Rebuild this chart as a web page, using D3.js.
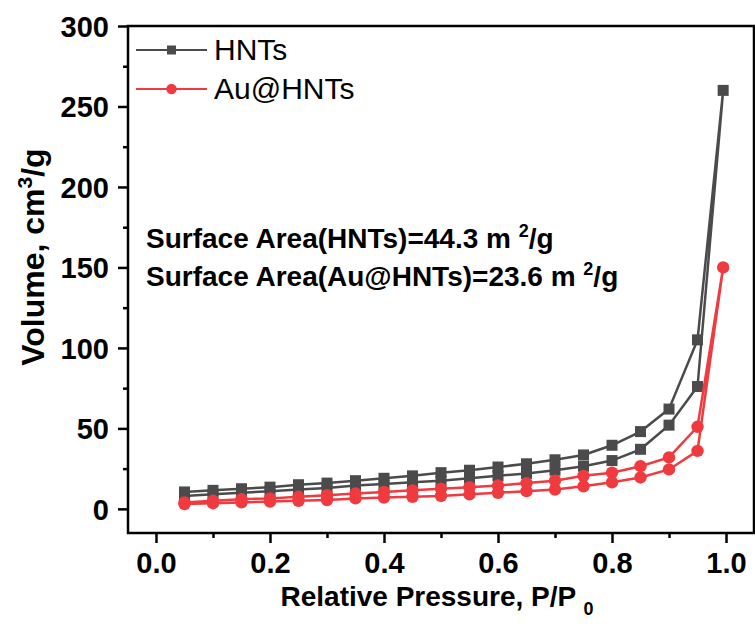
<!DOCTYPE html>
<html>
<head>
<meta charset="utf-8">
<script src="https://cdn.jsdelivr.net/npm/d3@7"></script>
<style>
  body { margin: 0; background: #fff; }
  svg { display: block; font-family: "Liberation Sans", Arial, sans-serif; }
</style>
</head>
<body>
<svg width="755" height="626"></svg>
<script>
// relative pressure points (adsorption goes up to 0.995, desorption comes back)
const pressure = [0.05, 0.10, 0.15, 0.20, 0.25, 0.30, 0.35, 0.40, 0.45, 0.50,
  0.55, 0.60, 0.65, 0.70, 0.75, 0.80, 0.85, 0.90, 0.95, 0.995];

const hntsAds = [8, 9, 10, 11, 12, 13, 14.5, 15.5, 16.5, 17.5,
  19, 20.5, 22, 24, 26.5, 30, 37, 52, 76, 260];
const hntsDes = [10.5, 11.5, 12.5, 13.5, 15, 16, 17.5, 19, 20.5, 22.5,
  24, 26, 28, 30.5, 33.5, 39.5, 48, 62, 105];

const auAds = [3, 3.5, 4, 4.5, 5, 5.5, 6.5, 7, 7.5, 8,
  9, 10, 11, 12, 14, 16.5, 19.5, 24.5, 36, 150];
const auDes = [4, 5, 6, 6.5, 7.5, 8.5, 9.5, 10.5, 11.5, 12.5,
  13.5, 14.5, 16, 17.5, 20.5, 22.5, 26.5, 32, 51];

const xTicks = [0, 0.2, 0.4, 0.6, 0.8, 1.0];
const xMinor = [0.1, 0.3, 0.5, 0.7, 0.9];
const yTicks = [0, 50, 100, 150, 200, 250, 300];
const yMinor = [25, 75, 125, 175, 225, 275];

const gray = '#4b4b4b';
const red = '#ef3b3f';

// adsorption then desorption back down
function loop(ads, des) {
  const pts = pressure.map((p, i) => [p, ads[i]]);
  for (let i = des.length - 1; i >= 0; i--) pts.push([pressure[i], des[i]]);
  return pts;
}

const series = [
  {name: 'HNTs', color: gray, shape: 'square', pts: loop(hntsAds, hntsDes)},
  {name: 'Au@HNTs', color: red, shape: 'circle', pts: loop(auAds, auDes)}
];

const svg = d3.select('svg');
const L = 128, R = 754, T = 26, B = 533;

const x = d3.scaleLinear().domain([-0.0491, 1.0491]).range([L, R]);
const y = d3.scaleLinear().domain([-15, 300]).range([B, T]);

const line = d3.line().x(d => x(d[0])).y(d => y(d[1]));

series.forEach(s => {
  const g = svg.append('g');
  g.append('path')
    .attr('d', line(s.pts))
    .attr('fill', 'none')
    .attr('stroke', s.color)
    .attr('stroke-width', 2.5);
  if (s.shape === 'square') {
    g.selectAll('rect').data(s.pts).enter().append('rect')
      .attr('x', d => x(d[0]) - 5.5)
      .attr('y', d => y(d[1]) - 5.5)
      .attr('width', 11).attr('height', 11)
      .attr('fill', s.color);
  } else {
    g.selectAll('circle').data(s.pts).enter().append('circle')
      .attr('cx', d => x(d[0]))
      .attr('cy', d => y(d[1]))
      .attr('r', 6.2)
      .attr('fill', s.color);
  }
});

// frame
svg.append('rect')
  .attr('x', L).attr('y', T)
  .attr('width', R - L).attr('height', B - T)
  .attr('fill', 'none')
  .attr('stroke', '#000')
  .attr('stroke-width', 2.5);

// axes
const xAxis = svg.append('g').attr('transform', `translate(0,${B})`)
  .call(d3.axisBottom(x).tickValues(xTicks).tickFormat(d3.format('.1f')).tickSize(10).tickPadding(9));
svg.append('g').attr('transform', `translate(0,${B})`)
  .call(d3.axisBottom(x).tickValues(xMinor).tickFormat('').tickSize(5));

const yAxis = svg.append('g').attr('transform', `translate(${L},0)`)
  .call(d3.axisLeft(y).tickValues(yTicks).tickSize(10).tickPadding(9));
svg.append('g').attr('transform', `translate(${L},0)`)
  .call(d3.axisLeft(y).tickValues(yMinor).tickFormat('').tickSize(5));

svg.selectAll('.domain').remove();
svg.selectAll('.tick line').attr('stroke', '#000').attr('stroke-width', 2.5);
svg.selectAll('.tick text')
  .attr('fill', '#000')
  .style('font-size', '29px')
  .style('font-weight', 'bold')
  .style('font-family', '"Liberation Sans", Arial, sans-serif');
yAxis.selectAll('.tick text').attr('dy', '0.35em');

// axis titles
const yt = svg.append('text')
  .attr('transform', 'translate(44,257) rotate(-90)')
  .attr('text-anchor', 'middle')
  .style('font-size', '32px').style('font-weight', 'bold');
yt.append('tspan').text('Volume, cm');
yt.append('tspan').attr('dy', -12).style('font-size', '21px').text('3');
yt.append('tspan').attr('dy', 12).text('/g');

const xt = svg.append('text')
  .attr('x', 437).attr('y', 606)
  .attr('text-anchor', 'middle')
  .style('font-size', '28px').style('font-weight', 'bold');
xt.append('tspan').text('Relative Pressure, P/P ');
xt.append('tspan').attr('dy', 9).style('font-size', '18px').text('0');

// legend
const legend = svg.append('g');
series.forEach((s, i) => {
  const ly = 50 + i * 39;
  legend.append('line')
    .attr('x1', 136).attr('x2', 207).attr('y1', ly).attr('y2', ly)
    .attr('stroke', s.color).attr('stroke-width', 2);
  if (s.shape === 'square') {
    legend.append('rect').attr('x', 167).attr('y', ly - 4.5)
      .attr('width', 9).attr('height', 9).attr('fill', s.color);
  } else {
    legend.append('circle').attr('cx', 171.5).attr('cy', ly).attr('r', 5.2).attr('fill', s.color);
  }
  legend.append('text')
    .attr('x', 214).attr('y', ly + 10)
    .style('font-size', '30px')
    .attr('fill', '#000')
    .text(s.name);
});

// surface area notes
const notes = [
  {label: 'Surface Area(HNTs)=44.3 m ', y: 248},
  {label: 'Surface Area(Au@HNTs)=23.6 m ', y: 286}
];
notes.forEach(n => {
  const t = svg.append('text')
    .attr('x', 146).attr('y', n.y)
    .style('font-size', '28px').style('font-weight', 'bold');
  t.append('tspan').text(n.label);
  t.append('tspan').attr('dy', -11).style('font-size', '18px').text('2');
  t.append('tspan').attr('dy', 11).text('/g');
});
</script>
</body>
</html>
